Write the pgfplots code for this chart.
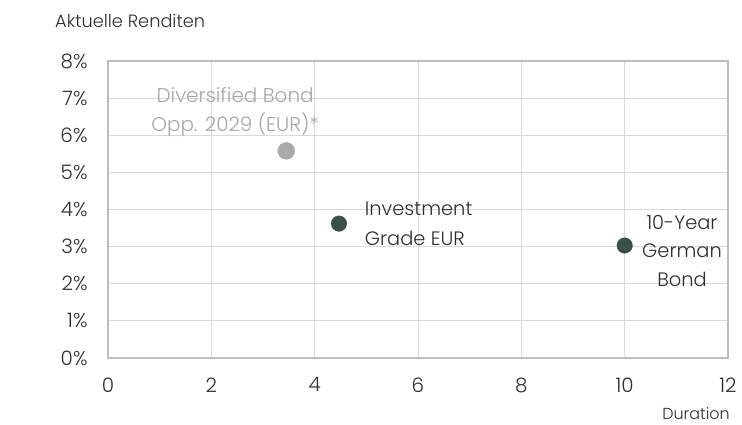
\documentclass[border=0pt]{standalone}
\usepackage{fontspec}
\setmainfont{Poppins}[UprightFont=* Light]
\usepackage{pgfplots}
\pgfplotsset{compat=1.18}
\definecolor{darkpt}{HTML}{3B5148}
\definecolor{graypt}{HTML}{A7A9AB}
\definecolor{graytxt}{HTML}{A4A6A8}
\definecolor{gridc}{HTML}{D9D9D9}
\definecolor{axisc}{HTML}{BDBDBD}
\definecolor{txt}{HTML}{2E2E2E}
\begin{document}
\begin{tikzpicture}[x=1bp,y=1bp]
\useasboundingbox (-108,-66) rectangle (634,358);
\begin{axis}[
  at={(0,0)}, anchor=south west,
  scale only axis,
  width=620bp, height=297bp,
  xmin=0, xmax=12, ymin=0, ymax=8,
  xtick={0,2,...,12}, ytick={0,1,...,8},
  yticklabel={\pgfmathprintnumber{\tick}\%},
  /pgf/number format/assume math mode=true,
  grid=major,
  major grid style={gridc, line width=0.9pt},
  axis line style={axisc, line width=1.2pt},
  major tick length=0pt,
  tick label style={font=\fontsize{20}{23}\selectfont, text=txt},
  xticklabel style={yshift=-16bp},
  yticklabel style={xshift=-17bp},
  clip=false,
]
\addplot[only marks, mark=*, mark size=8.5pt, mark options={fill=graypt, draw=graypt}] coordinates {(3.45,5.58)};
\addplot[only marks, mark=*, mark size=7.8pt, mark options={fill=darkpt, draw=darkpt}] coordinates {(4.47,3.62) (10.0,3.03)};
\node[align=center, anchor=north, inner sep=0pt, text=graytxt, font=\fontsize{20}{29}\selectfont] at (axis cs:2.46,7.30) {Diversified Bond\\Opp. 2029 (EUR)*};
\node[align=left, anchor=north west, inner sep=0pt, text=txt, font=\fontsize{19.5}{30}\selectfont] at (axis cs:4.97,4.20) {Investment\\Grade EUR};
\node[align=center, anchor=north, inner sep=0pt, text=txt, font=\fontsize{19.5}{28.5}\selectfont] at (axis cs:11.11,3.85) {10-Year\\German\\Bond};
\end{axis}
\node[anchor=base west, inner sep=0pt, font=\fontsize{17.8}{20}\selectfont, text=txt] at (-53,331) {Aktuelle Renditen};
\node[anchor=base east, inner sep=0pt, font=\fontsize{16}{19}\selectfont, text=txt] at (622,-61) {Duration};
\end{tikzpicture}
\end{document}
